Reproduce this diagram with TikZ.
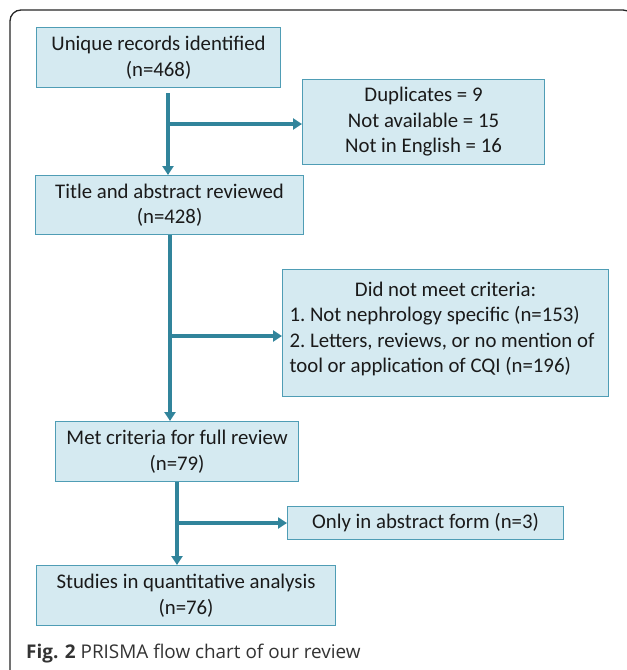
\documentclass[tikz,border=0pt]{standalone}
\usepackage{fontspec}
\setmainfont{Carlito}
\newfontfamily\capfont{Open Sans}
\usetikzlibrary{arrows.meta}

\definecolor{boxfill}{HTML}{D5EAF1}
\definecolor{boxline}{HTML}{4F9DB5}
\definecolor{flowcol}{HTML}{31849B}
\definecolor{txtcol}{HTML}{1A1A1A}

\tikzset{
    box/.style={draw=boxline, fill=boxfill, line width=1.1pt, anchor=north west,
        inner sep=0pt, align=center, text=txtcol,
        font=\fontsize{20.8}{25.5}\selectfont\frenchspacing},
    flow/.style={draw=flowcol, line width=3.6pt,
        -{Triangle[length=9pt,width=11pt]}}
}

\begin{document}
\begin{tikzpicture}[x=1pt, y=-1pt]
        \useasboundingbox (0,0) rectangle (627,670);
        \clip (0,0) rectangle (627,670);
        \draw[line width=1.3pt, rounded corners=11pt, color=black!85] (10,690) -- (10,10) -- (634,10) -- (634,690);

        \node[box, minimum width=244pt, minimum height=60pt] (rec) at (36,27) {Unique records identified\\(n=468)};
        \node[box, minimum width=242pt, minimum height=85pt] (dup) at (302,79) {Duplicates = 9\\Not available = 15\\Not in English = 16};
        \node[box, minimum width=268pt, minimum height=59pt] (title) at (35,175) {Title and abstract reviewed\\(n=428)};
        \node[box, minimum width=326pt, minimum height=127pt, align=flush left, text width=312pt, inner xsep=7pt] (crit) at (282,269)
            {\makebox[\linewidth]{Did not meet criteria:}\\1. Not nephrology specific (n=153)\\2. Letters, reviews, or no mention of\\tool or application of CQI (n=196)\rule[-12pt]{0pt}{12pt}};
        \node[box, minimum width=243pt, minimum height=60pt] (full) at (55,421) {Met criteria for full review\\(n=79)};
        \node[box, minimum width=276pt, minimum height=33pt] (abs) at (287,506) {Only in abstract form (n=3)};
        \node[box, minimum width=299pt, minimum height=60pt] (quant) at (36,565) {Studies in quantitative analysis\\(n=76)};

        \node[anchor=base west, inner sep=0pt, text=black!80, font=\capfont\fontsize{18.9}{22}\selectfont] (cap) at (26,658)
            {\textbf{Fig. 2} PRISMA flow chart of our review};

        % arrows
        \coordinate (j1) at (168,124);
        \coordinate (j2) at (170,336);
        \coordinate (j3) at (177,523);
        \draw[flow] ([yshift=-5pt]rec.south -| j1) -- (title.north -| j1);
        \draw[flow] (j1) -- (dup.west |- j1);
        \draw[flow] (title.south -| j2) -- (full.north -| j2);
        \draw[flow] (j2) -- (crit.west |- j2);
        \draw[flow] (full.south -| j3) -- (quant.north -| j3);
        \draw[flow] (j3) -- (abs.west |- j3);
    \end{tikzpicture}
\end{document}
